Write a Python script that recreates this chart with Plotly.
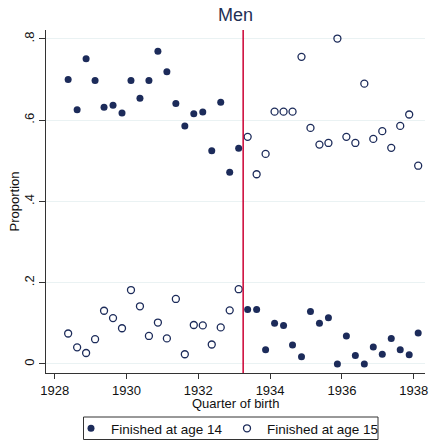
import plotly.graph_objects as go

# Quarter of birth (mid-quarter values)
quarters = [1928.375, 1928.625, 1928.875, 1929.125, 1929.375, 1929.625, 1929.875, 1930.125,
            1930.375, 1930.625, 1930.875, 1931.125, 1931.375, 1931.625, 1931.875, 1932.125,
            1932.375, 1932.625, 1932.875, 1933.125,
            1933.375, 1933.625, 1933.875, 1934.125, 1934.375, 1934.625, 1934.875, 1935.125,
            1935.375, 1935.625, 1935.875, 1936.125, 1936.375, 1936.625, 1936.875, 1937.125,
            1937.375, 1937.625, 1937.875, 1938.125]

finished_14 = [0.700, 0.626, 0.751, 0.698, 0.632, 0.637, 0.618, 0.698, 0.654, 0.698,
               0.770, 0.719, 0.641, 0.586, 0.616, 0.620, 0.525, 0.644, 0.472, 0.531,
               0.134, 0.134, 0.035, 0.100, 0.095, 0.047, 0.018, 0.129, 0.100, 0.114,
               0.000, 0.069, 0.021, 0.000, 0.042, 0.024, 0.063, 0.035, 0.023, 0.076]

finished_15 = [0.075, 0.041, 0.027, 0.061, 0.131, 0.113, 0.088, 0.182, 0.142, 0.069,
               0.102, 0.063, 0.160, 0.024, 0.096, 0.095, 0.048, 0.090, 0.132, 0.184,
               0.559, 0.467, 0.517, 0.621, 0.621, 0.621, 0.756, 0.581, 0.540, 0.544,
               0.801, 0.559, 0.544, 0.690, 0.554, 0.573, 0.532, 0.586, 0.614, 0.488]

cutoff = 1933.25

x_ticks = [1928, 1930, 1932, 1934, 1936, 1938]
y_ticks = [0, 0.2, 0.4, 0.6, 0.8]
y_tick_labels = ["0", ".2", ".4", ".6", ".8"]

NAVY = "#1c2b5a"
FONT = "Liberation Sans, Arial, sans-serif"

W, H = 430, 440
ML, MR, MT, MB = 46, 5, 30, 67
PW, PH = W - ML - MR, H - MT - MB


def px_x(p):
    return (p - ML) / PW


def px_y(p):
    return (H - MB - p) / PH


fig = go.Figure()
fig.add_trace(go.Scatter(
    x=quarters, y=finished_14, mode="markers", name="Finished at age 14",
    marker=dict(symbol="circle", size=7, color=NAVY, line=dict(width=0)),
))
fig.add_trace(go.Scatter(
    x=quarters, y=finished_15, mode="markers", name="Finished at age 15",
    marker=dict(symbol="circle-open", size=7, color=NAVY, line=dict(width=1.3, color=NAVY)),
))

# cutoff line
fig.add_shape(type="line", xref="x", yref="paper", x0=cutoff, x1=cutoff, y0=0, y1=1,
              line=dict(color="#cc0033", width=1.5))
# legend frame
fig.add_shape(type="rect", xref="paper", yref="paper",
              x0=px_x(83.5), x1=px_x(378), y0=px_y(439.5), y1=px_y(417),
              line=dict(color="#333333", width=1), fillcolor="rgba(0,0,0,0)")

fig.add_annotation(text="Proportion", xref="paper", yref="paper",
                   x=px_x(14), y=0.5, xanchor="center", yanchor="middle",
                   textangle=-90, showarrow=False,
                   font=dict(size=13, family=FONT, color="#111111"))
fig.add_annotation(text="Quarter of birth", xref="paper", yref="paper",
                   x=0.5, y=px_y(403), xanchor="center", yanchor="middle",
                   showarrow=False, borderpad=0,
                   font=dict(size=13, family=FONT, color="#111111"))

fig.update_layout(
    width=W, height=H,
    margin=dict(l=ML, r=MR, t=MT, b=MB, autoexpand=False),
    paper_bgcolor="white", plot_bgcolor="white",
    font=dict(family=FONT, size=13, color="#111111"),
    title=dict(text="Men", x=0.5, xref="paper", xanchor="center",
               y=1 - 15 / H, yref="container", yanchor="middle",
               font=dict(size=18, color="#1f2f55", family=FONT)),
    showlegend=True,
    legend=dict(orientation="h", x=px_x(71), xanchor="left",
                y=px_y(413), yanchor="top",
                bgcolor="rgba(0,0,0,0)", borderwidth=0,
                font=dict(size=13.5, family=FONT, color="#111111"),
                itemwidth=30, entrywidth=111, entrywidthmode="pixels",
                tracegroupgap=0),
    xaxis=dict(range=[1927.758, 1938.315], tickvals=x_ticks,
               ticks="outside", ticklen=5, tickcolor="#333333",
               showline=True, linecolor="#333333", linewidth=1,
               showgrid=False, zeroline=False,
               tickfont=dict(size=13)),
    yaxis=dict(range=[-0.0222, 0.822], tickvals=y_ticks, ticktext=y_tick_labels,
               tickangle=-90,
               ticks="outside", ticklen=6, tickcolor="#333333",
               showline=True, linecolor="#333333", linewidth=1,
               showgrid=True, gridcolor="#eaf2f3", gridwidth=1,
               zeroline=False,
               tickfont=dict(size=13)),
)

fig.write_html("out.html",
               config={"displayModeBar": False},
               post_script="document.body.style.margin='0';document.body.style.overflow='hidden';")
